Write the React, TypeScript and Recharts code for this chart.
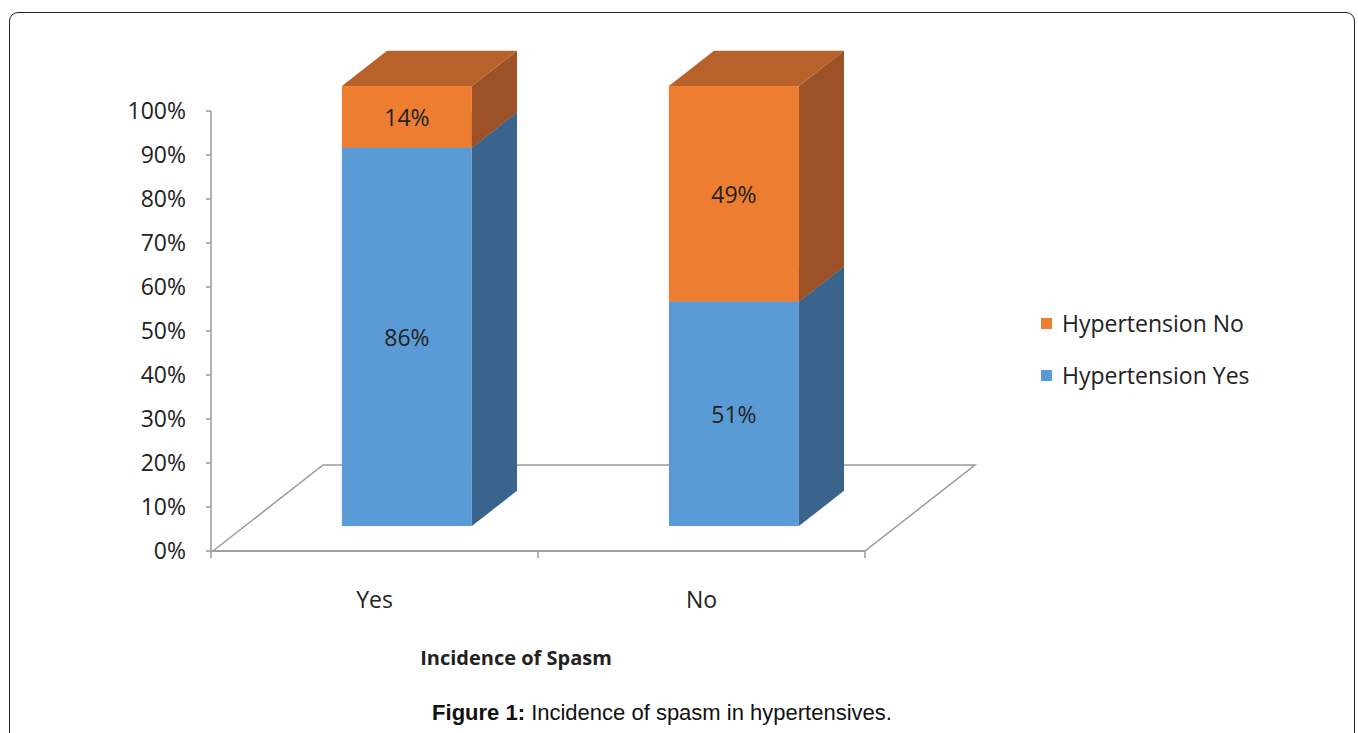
import { BarChart, Bar, XAxis, YAxis, Legend, usePlotArea } from 'recharts';

const categories = ['Yes', 'No'];
const hypertensionYes = [86, 51];
const hypertensionNo = [14, 49];
const yTicks = [0, 10, 20, 30, 40, 50, 60, 70, 80, 90, 100];

const data = categories.map((c, i) => ({ category: c, yes: hypertensionYes[i], no: hypertensionNo[i] }));

const FONT = '"Open Sans", sans-serif';
// floor depth vector and where the boxes sit inside it
const DEPTH_X = 110;
const DEPTH_Y = -86;
const FRONT = 0.29;
const BACK = 0.7;

const faces = {
  yes: { front: '#5B9BD5', side: '#3A648C', top: '#4A80B4' },
  no: { front: '#ED7D31', side: '#9C5226', top: '#B7622B' },
};

function makeBox(key: 'yes' | 'no') {
  const c = faces[key];
  return (props: any) => {
    const { x, y, width, height, payload } = props;
    const fx = x + DEPTH_X * FRONT;
    const fy = y + DEPTH_Y * FRONT;
    const ddx = DEPTH_X * (BACK - FRONT);
    const ddy = DEPTH_Y * (BACK - FRONT);
    const r = fx + width;
    return (
      <g>
        <polygon points={`${r},${fy} ${r + ddx},${fy + ddy} ${r + ddx},${fy + height + ddy} ${r},${fy + height}`} fill={c.side} />
        <polygon points={`${fx},${fy} ${fx + ddx},${fy + ddy} ${r + ddx},${fy + ddy} ${r},${fy}`} fill={c.top} />
        <rect x={fx} y={fy} width={width} height={height} fill={c.front} />
        <text x={fx + width / 2} y={fy + height / 2} textAnchor="middle" dominantBaseline="central" fontFamily={FONT} fontSize={23} fill="#222">
          {payload[key]}%
        </text>
      </g>
    );
  };
}

function Floor() {
  const area = usePlotArea();
  if (!area) return null;
  const { x, y, width, height } = area;
  const b = y + height;
  const step = width / categories.length;
  return (
    <g>
      <polygon
        points={`${x + 2},${b} ${x + 2 + DEPTH_X},${b + DEPTH_Y} ${x + width + DEPTH_X},${b + DEPTH_Y} ${x + width},${b}`}
        fill="none"
        stroke="#9a9a9a"
        strokeWidth={1.5}
      />
      {categories.concat(['']).map((_, i) => (
        <line key={i} x1={x + step * i} x2={x + step * i} y1={b} y2={b + 7} stroke="#9a9a9a" strokeWidth={1.5} />
      ))}
      <text x={x + width / 2 - 22} y={b + 106} textAnchor="middle" dominantBaseline="central" fontFamily={FONT} fontWeight="bold" fontSize={20} fill="#222">
        Incidence of Spasm
      </text>
    </g>
  );
}

function LegendBox() {
  const items = [
    { label: 'Hypertension No', color: faces.no.front },
    { label: 'Hypertension Yes', color: faces.yes.front },
  ];
  return (
    <div>
      {items.map((it) => (
        <div key={it.label} style={{ display: 'flex', alignItems: 'center', height: 52, fontFamily: FONT, fontSize: 23, color: '#222' }}>
          <span style={{ width: 11, height: 11, background: it.color, marginRight: 10, display: 'inline-block' }} />
          {it.label}
        </div>
      ))}
    </div>
  );
}

export default function App() {
  return (
    <div style={{ position: 'absolute', left: 0, top: 0, width: 1358, height: 733, overflow: 'hidden', background: '#fff' }}>
      <div style={{ position: 'absolute', left: 9, top: 12, width: 1344, height: 760, border: '1.5px solid #222', borderRadius: 9 }} />
      <div style={{ position: 'absolute', left: 0, top: 0 }}>
        <BarChart width={1358} height={733} data={data} margin={{ top: 111, left: 131, right: 493, bottom: 122 }} barSize={130}>
          <Floor />
          <XAxis
            dataKey="category"
            height={60}
            tickLine={false}
            tickSize={7}
            tickMargin={34}
            axisLine={{ stroke: '#9a9a9a', strokeWidth: 1.5 }}
            tick={{ fontFamily: FONT, fontSize: 23, fill: '#222' }}
          />
          <YAxis
            width={80}
            domain={[0, 100]}
            ticks={yTicks}
            interval={0}
            tickFormatter={(v) => `${v}%`}
            tickSize={5}
            tickMargin={20}
            axisLine={{ stroke: '#9a9a9a', strokeWidth: 1.5 }}
            tickLine={{ stroke: '#9a9a9a', strokeWidth: 1.5 }}
            tick={{ fontFamily: FONT, fontSize: 23, fill: '#222' }}
          />
          <Legend
            layout="horizontal"
            verticalAlign="middle"
            align="center"
            content={<LegendBox />}
            wrapperStyle={{ left: 1041, top: 297, width: 280 }}
          />
          <Bar dataKey="yes" stackId="a" shape={makeBox('yes')} isAnimationActive={false} />
          <Bar dataKey="no" stackId="a" shape={makeBox('no')} isAnimationActive={false} />
        </BarChart>
      </div>
      <div style={{ position: 'absolute', left: 0, width: 1324, top: 700, textAlign: 'center', fontFamily: '"Liberation Sans", Arial, sans-serif', fontSize: 22, color: '#111' }}>
        <b>Figure 1:</b> Incidence of spasm in hypertensives.
      </div>
    </div>
  );
}
